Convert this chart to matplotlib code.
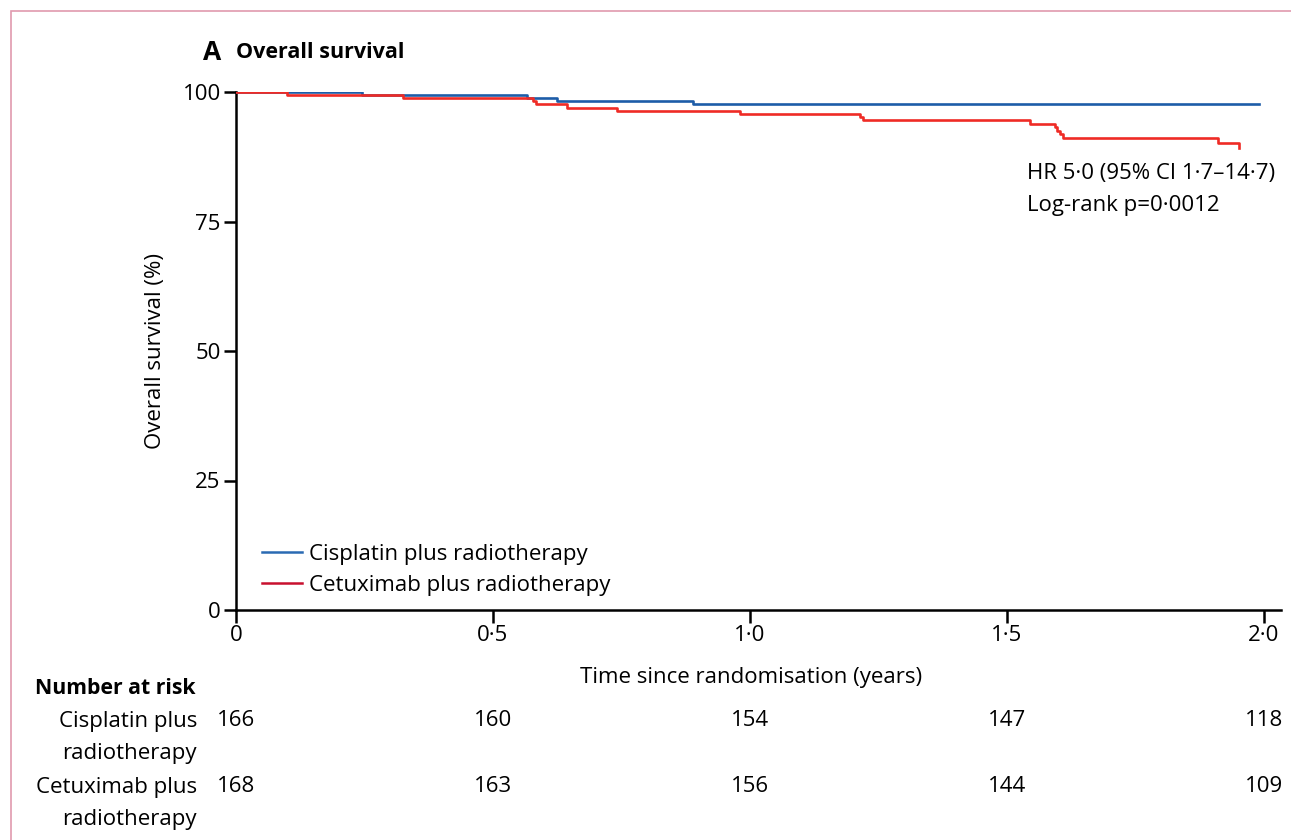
import matplotlib
matplotlib.use("Agg")
import matplotlib.pyplot as plt
from matplotlib.lines import Line2D
from matplotlib.patches import Rectangle

plt.rcParams['font.family'] = ['Open Sans', 'DejaVu Sans']

# Kaplan-Meier step points (years, % alive)
cis_t = [0, 0.245, 0.566, 0.625, 0.889, 1.990]
cis_s = [100, 99.4, 98.8, 98.2, 97.6, 97.6]
cet_t = [0, 0.099, 0.325, 0.578, 0.584, 0.644, 0.741, 0.981, 1.214, 1.220,
         1.545, 1.594, 1.598, 1.603, 1.609, 1.910, 1.951]
cet_s = [100, 99.4, 98.8, 98.2, 97.6, 97.0, 96.4, 95.8, 95.2, 94.6,
         93.8, 93.15, 92.5, 91.85, 91.2, 90.2, 89.2]

risk_times = [0, 0.5, 1.0, 1.5, 2.0]
risk_cis = [166, 160, 154, 147, 118]
risk_cet = [168, 163, 156, 144, 109]

x_ticks = [0, 0.5, 1.0, 1.5, 2.0]
x_labels = ['0', '0·5', '1·0', '1·5', '2·0']
y_ticks = [0, 25, 50, 75, 100]

blue = '#1d5ca8'
red = '#ef2b25'
fs = 16

W, H = 1291, 840
fig = plt.figure(figsize=(W / 100, H / 100), dpi=100)
ax = fig.add_axes([236 / W, 1 - 610 / H, (1281 - 236) / W, (610 - 92) / H])

ax.step(cis_t, cis_s, where='post', color=blue, lw=1.9, zorder=3)
ax.step(cet_t, cet_s, where='post', color=red, lw=1.9, zorder=4)

ax.set_xlim(0, (1281 - 236) / 514)
ax.set_ylim(0, 100)
ax.set_xticks(x_ticks)
ax.set_xticklabels(x_labels)
ax.set_yticks(y_ticks)
for s in ['top', 'right']:
    ax.spines[s].set_visible(False)
for s in ['left', 'bottom']:
    ax.spines[s].set_linewidth(1.8)
    ax.spines[s].set_clip_on(False)
ax.tick_params(direction='out', length=9, width=1.8, labelsize=fs, pad=2, colors='black')

ax.set_xlabel('Time since randomisation (years)', fontsize=fs)
ax.xaxis.set_label_coords(0.493, -0.111)
ax.set_ylabel('Overall survival (%)', fontsize=fs, labelpad=12)

# panel title
fig.text(203 / W, 1 - 52 / H, 'A', fontsize=19, fontweight='bold', va='center', ha='left')
fig.text(236 / W, 1 - 52 / H, 'Overall survival', fontsize=15.5, fontweight='bold', va='center', ha='left')

# hazard ratio annotation
fig.text(1027 / W, 1 - 173 / H, 'HR 5·0 (95% CI 1·7–14·7)', fontsize=fs, va='center', ha='left')
fig.text(1027 / W, 1 - 206 / H, 'Log-rank p=0·0012', fontsize=fs, va='center', ha='left')

# legend
handles = [Line2D([], [], color='#2a6ab3', lw=1.8),
           Line2D([], [], color='#c8102e', lw=1.8)]
ax.legend(handles, ['Cisplatin plus radiotherapy', 'Cetuximab plus radiotherapy'],
          loc='lower left', bbox_to_anchor=(0.006, -0.012), frameon=False, fontsize=fs,
          handlelength=1.8, handletextpad=0.3, labelspacing=0.45)

# number at risk table
fig.text(35 / W, 1 - 689 / H, 'Number at risk', fontsize=15.3, fontweight='bold', va='center', ha='left')
rows = [('Cisplatin plus', 'radiotherapy', risk_cis, 721),
        ('Cetuximab plus', 'radiotherapy', risk_cet, 787)]
for l1, l2, counts, yp in rows:
    fig.text(197 / W, 1 - yp / H, l1, fontsize=fs, va='center', ha='right')
    fig.text(197 / W, 1 - (yp + 33) / H, l2, fontsize=fs, va='center', ha='right')
    for t, n in zip(risk_times, counts):
        ax.annotate(str(n), xy=(t, 0), xycoords='data',
                    xytext=(0, -(yp - 610) * 0.72), textcoords='offset points',
                    fontsize=fs, ha='center', va='center', annotation_clip=False)

# page frame
fig.patches.append(Rectangle((11 / W, -0.05), 1.2, 1 - 11 / H + 0.05, transform=fig.transFigure,
                             fill=False, edgecolor='#e09aae', lw=1.2))

fig.savefig('out.png', dpi=100)
